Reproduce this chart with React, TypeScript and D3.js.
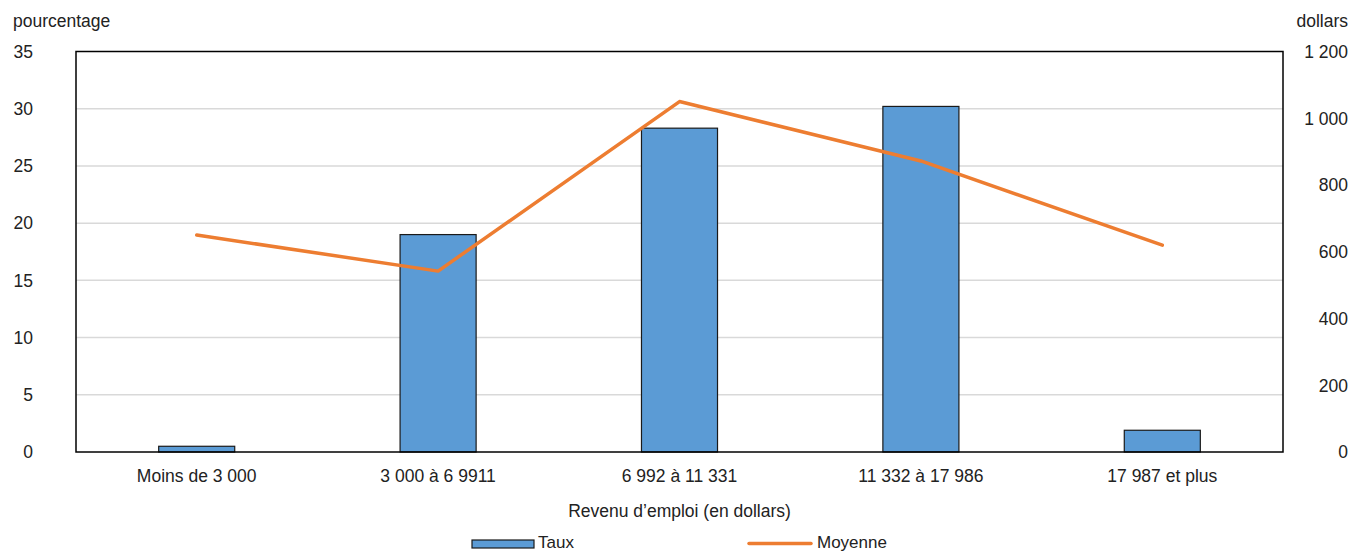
import { useRef, useEffect } from 'react'
import * as d3 from 'd3'

const categories = ['Moins de 3 000', '3 000 à 6 9911', '6 992 à 11 331', '11 332 à 17 986', '17 987 et plus']
const taux = [0.5, 19.0, 28.3, 30.2, 1.9]
const moyenne = [650, 542, 1050, 872, 620]
const leftTicks = [0, 5, 10, 15, 20, 25, 30, 35]
const rightTicks = [0, 200, 400, 600, 800, 1000, 1200]

const width = 1351
const height = 552
const font = '"Liberation Sans", Arial, sans-serif'
const textColor = '#222'

const App = () => {
  const svgRef = useRef<SVGSVGElement>(null)

  useEffect(() => {
    if (!svgRef.current) return
    const svg = d3.select(svgRef.current)
    svg.selectAll('*').remove()

    const margin = { top: 51.5, right: 68, bottom: 100, left: 76 }
    const innerWidth = width - margin.left - margin.right
    const innerHeight = height - margin.top - margin.bottom

    const fr = d3.formatLocale({ decimal: ',', thousands: '\u00a0', grouping: [3], currency: ['', ' $'] })
    const fmt = fr.format(',d')

    const x = d3.scaleBand<string>().domain(categories).range([0, innerWidth]).paddingInner(0.685).paddingOuter(0.3425)
    const yL = d3.scaleLinear().domain([0, 35]).range([innerHeight, 0])
    const yR = d3.scaleLinear().domain([0, 1200]).range([innerHeight, 0])

    const g = svg.append('g').attr('transform', `translate(${margin.left},${margin.top})`)

    // gridlines
    g.selectAll('.grid')
      .data(leftTicks.slice(1, -1))
      .join('line')
      .attr('x1', 0)
      .attr('x2', innerWidth)
      .attr('y1', d => yL(d))
      .attr('y2', d => yL(d))
      .attr('stroke', '#d9d9d9')
      .attr('stroke-width', 1.5)

    // bars
    g.selectAll('.bar')
      .data(taux)
      .join('rect')
      .attr('x', (_, i) => x(categories[i])!)
      .attr('y', d => yL(d))
      .attr('width', x.bandwidth())
      .attr('height', d => innerHeight - yL(d))
      .attr('fill', '#5b9bd5')
      .attr('stroke', '#1a1a1a')
      .attr('stroke-width', 1.2)

    // frame
    g.append('rect')
      .attr('x', 0)
      .attr('y', 0)
      .attr('width', innerWidth)
      .attr('height', innerHeight)
      .attr('fill', 'none')
      .attr('stroke', '#000')
      .attr('stroke-width', 1.5)

    // line
    const line = d3.line<number>()
      .x((_, i) => x(categories[i])! + x.bandwidth() / 2)
      .y(d => yR(d))

    g.append('path')
      .datum(moyenne)
      .attr('fill', 'none')
      .attr('stroke', '#ed7d31')
      .attr('stroke-width', 3.5)
      .attr('stroke-linejoin', 'round')
      .attr('stroke-linecap', 'round')
      .attr('d', line)

    const txt = (sel: d3.Selection<any, any, any, any>) =>
      sel.attr('font-family', font).attr('font-size', 17.5).attr('fill', textColor)

    // left axis labels
    g.selectAll('.lt')
      .data(leftTicks)
      .join('text')
      .call(txt)
      .attr('x', 33 - margin.left)
      .attr('y', d => yL(d))
      .attr('dy', '0.36em')
      .attr('text-anchor', 'end')
      .text(d => d)

    // right axis labels
    g.selectAll('.rt')
      .data(rightTicks)
      .join('text')
      .call(txt)
      .attr('x', 1348 - margin.left)
      .attr('y', d => yR(d))
      .attr('dy', '0.36em')
      .attr('text-anchor', 'end')
      .text(d => fmt(d))

    // category labels
    g.selectAll('.cat')
      .data(categories)
      .join('text')
      .call(txt)
      .attr('x', d => x(d)! + x.bandwidth() / 2)
      .attr('y', innerHeight + 30)
      .attr('text-anchor', 'middle')
      .text(d => d)

    svg.append('text').call(txt)
      .attr('x', margin.left + innerWidth / 2)
      .attr('y', 517)
      .attr('text-anchor', 'middle')
      .text('Revenu d’emploi (en dollars)')

    svg.append('text').call(txt)
      .attr('x', 13)
      .attr('y', 26.5)
      .text('pourcentage')

    svg.append('text').call(txt)
      .attr('x', 1348)
      .attr('y', 26.5)
      .attr('text-anchor', 'end')
      .text('dollars')

    // legend
    const lg = svg.append('g')
    lg.append('rect')
      .attr('x', 472)
      .attr('y', 540)
      .attr('width', 62)
      .attr('height', 8)
      .attr('fill', '#5b9bd5')
      .attr('stroke', '#1a1a1a')
      .attr('stroke-width', 1.2)
    lg.append('text').call(txt)
      .attr('x', 538)
      .attr('y', 548)
      .attr('font-size', 17)
      .text('Taux')
    lg.append('line')
      .attr('x1', 749)
      .attr('x2', 811)
      .attr('y1', 543.5)
      .attr('y2', 543.5)
      .attr('stroke', '#ed7d31')
      .attr('stroke-width', 3.5)
      .attr('stroke-linecap', 'round')
    lg.append('text').call(txt)
      .attr('x', 817)
      .attr('y', 548)
      .attr('font-size', 17)
      .text('Moyenne')
  }, [])

  return (
    <svg
      ref={svgRef}
      width={width}
      height={height}
      style={{ position: 'absolute', left: 0, top: 0, background: '#fff' }}
    />
  )
}

export default App
